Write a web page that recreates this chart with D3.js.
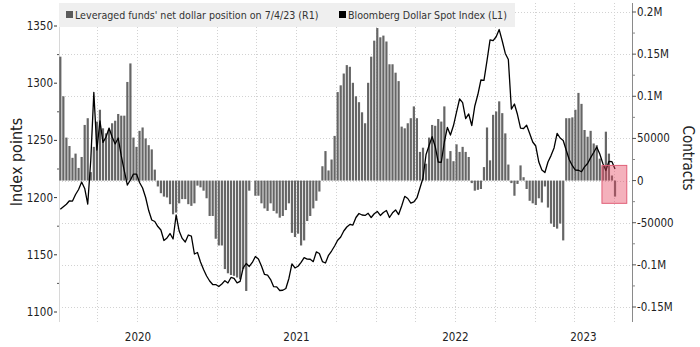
<!DOCTYPE html>
<html><head><meta charset="utf-8">
<script src="https://cdn.jsdelivr.net/npm/d3@7"></script>
<style>body{margin:0;background:#fff}svg{display:block}</style>
</head><body>
<svg id="chart" width="700" height="347"></svg>
<script>
// ---- data ----
const firstWeek = "2020-01-07"; // weekly CFTC reports (Tuesdays)
const netPosition = [ // leveraged funds' net dollar position, contracts (R1)
 147000,100000,51000,41000,27000,32000,15000,28000,66000,74000,
 10000,40000,70000,84000,62000,56000,60000,68000,71000,79000,
 77000,77000,117000,139000,51000,40000,59000,63000,50000,42000,
 37000,13000,-7000,-15000,-19000,-20000,-28000,-40000,-38000,-27000,
 -22000,-22000,-28000,-30000,-27000,-6000,-8000,-12000,-21000,-42000,
 -42000,-69000,-77000,-77000,-105000,-110000,-112000,-113000,-115000,-117000,
 -105000,-131000,-12000,0,-18000,-18000,-27000,-33000,-36000,-27000,
 -36000,-39000,-44000,-42000,-35000,-27000,-62000,-67000,-63000,-77000,
 -71000,-48000,-42000,-33000,-24000,-13000,17000,35000,12000,25000,
 53000,105000,113000,127000,137000,135000,116000,100000,93000,81000,
 68000,116000,147000,166000,181000,170000,172000,165000,138000,138000,
 128000,118000,64000,62000,68000,74000,88000,74000,34000,39000,
 20000,51000,66000,65000,73000,70000,88000,26000,35000,23000,
 43000,34000,40000,34000,28000,-3000,-12000,-11000,-10000,16000,
 63000,24000,78000,82000,94000,80000,56000,19000,-3000,-18000,
 -4000,18000,4000,-10000,-24000,-27000,-29000,-21000,-26000,-7000,
 -32000,-51000,-55000,-57000,-51000,-71000,74000,74000,75000,84000,
 104000,91000,60000,52000,59000,44000,42000,26000,17000,58000,
 32000,6000,-19000
];
const dollarIndex = [ // Bloomberg Dollar Spot Index (L1)
 1189.8,1192.0,1194.2,1197.2,1197.0,1202.7,1207.1,1213.6,1208.0,1194.4,
 1232.9,1292.0,1241.6,1267.0,1248.2,1253.0,1260.8,1253.0,1246.9,1252.1,
 1236.4,1223.3,1211.0,1215.4,1220.6,1220.6,1213.2,1208.4,1200.1,1188.7,
 1180.4,1179.1,1174.7,1171.7,1162.5,1164.7,1168.6,1163.8,1184.8,1170.8,
 1164.3,1161.2,1167.3,1166.4,1150.7,1152.0,1143.7,1137.2,1131.5,1127.1,
 1124.0,1124.0,1122.3,1124.5,1127.4,1125.4,1130.2,1129.3,1125.4,1126.7,
 1138.5,1142.4,1139.8,1143.3,1148.5,1146.3,1140.2,1132.8,1132.3,1128.4,
 1122.1,1121.9,1118.8,1119.0,1120.5,1129.3,1142.0,1138.5,1140.0,1143.3,
 1147.5,1146.3,1146.1,1144.0,1152.5,1151.1,1144.1,1142.8,1149.6,1153.3,
 1157.7,1162.7,1165.6,1170.8,1174.3,1176.5,1176.0,1182.6,1186.1,1184.8,
 1184.4,1186.3,1182.6,1185.9,1187.9,1184.4,1187.0,1188.7,1182.6,1186.7,
 1189.2,1185.2,1192.7,1201.1,1199.2,1195.1,1196.2,1199.7,1208.4,1217.1,
 1237.7,1245.5,1253.2,1244.7,1231.1,1230.9,1248.6,1261.3,1254.7,1263.0,
 1274.8,1286.2,1283.0,1269.1,1273.1,1263.0,1280.1,1290.1,1302.8,1302.5,
 1319.8,1337.8,1337.2,1340.6,1346.9,1336.9,1326.0,1320.7,1277.4,1281.8,
 1272.6,1260.8,1260.4,1263.3,1256.0,1248.6,1245.1,1231.1,1224.1,1221.9,
 1231.1,1236.7,1243.4,1256.2,1252.1,1249.9,1241.4,1233.1,1227.9,1224.1,
 1223.9,1222.6,1226.9,1229.8,1234.9,1239.4,1244.2,1238.1,1229.8,1223.7,
 1231.7,1231.4,1225.0
];
const leftTicks = [1100, 1150, 1200, 1250, 1300, 1350];
const leftMinorTicks = [1125, 1175, 1225, 1275, 1325];
const rightTicks = [-150000, -100000, -50000, 0, 50000, 100000, 150000, 200000];
const rightTickLabels = ["-0.15M", "-0.1M", "-50000", "0", "50000", "0.1M", "0.15M", "0.2M"];
const rightMinorTicks = [-125000, -75000, -25000, 25000, 75000, 125000, 175000];
const yearLabels = ["2020", "2021", "2022", "2023"];
const xDomain = ["2020-01-04", "2023-08-12"];
const highlightDates = ["2023-06-04", "2023-07-31"];
const highlightValues = [-27000, 18000];
const legendLabels = ["Leveraged funds' net dollar position on 7/4/23 (R1)", "Bloomberg Dollar Spot Index (L1)"];
const legendColors = ["#5a5a5a", "#000000"];
const axisTitles = ["Index points", "Contracts"];

// ---- layout ----
const plot = {left: 59, right: 632, top: 3, bottom: 322};
const parse = d3.utcParse("%Y-%m-%d");
const start = parse(firstWeek);
const weekDates = netPosition.map((_, i) => d3.utcDay.offset(start, 7 * i));

const x = d3.scaleUtc().domain(xDomain.map(parse)).range([plot.left, plot.right]);
const yL = d3.scaleLinear().domain([1100, 1350]).range([312, 26]);
const yR = d3.scaleLinear().domain([-150000, 200000]).range([307, 12]);

const svg = d3.select("#chart");
const FONT = "'DejaVu Sans Condensed', 'DejaVu Sans', sans-serif";

// gridlines
const grid = svg.append("g").attr("stroke", "#d2d2d2").attr("stroke-dasharray", "1,2").attr("stroke-width", 1);
grid.selectAll("line.h").data(rightTicks).join("line")
  .attr("x1", plot.left).attr("x2", plot.right)
  .attr("y1", d => Math.round(yR(d)) + 0.5).attr("y2", d => Math.round(yR(d)) + 0.5);
const quarters = d3.utcMonth.every(3).range(x.domain()[0], x.domain()[1]);
grid.selectAll("line.v").data(quarters).join("line")
  .attr("x1", d => Math.round(x(d)) + 0.5).attr("x2", d => Math.round(x(d)) + 0.5)
  .attr("y1", plot.top).attr("y2", plot.bottom);

// left axis line (light)
svg.append("line").attr("x1", plot.left + 0.5).attr("x2", plot.left + 0.5)
  .attr("y1", plot.top).attr("y2", plot.bottom).attr("stroke", "#d8d8d8");

// bars
svg.append("g").selectAll("rect").data(netPosition).join("rect")
  .attr("x", (d, i) => x(weekDates[i]) - 1.1)
  .attr("width", 2.2)
  .attr("y", d => yR(Math.max(0, d)))
  .attr("height", d => Math.abs(yR(d) - yR(0)))
  .attr("fill", "#666666");

// line
const line = d3.line().x((d, i) => x(weekDates[i])).y(d => yL(d));
svg.append("path").datum(dollarIndex).attr("d", line)
  .attr("fill", "none").attr("stroke", "#000").attr("stroke-width", 1.3).attr("stroke-linejoin", "round");

// highlight box
const hx0 = x(parse(highlightDates[0])), hx1 = x(parse(highlightDates[1]));
svg.append("rect")
  .attr("x", hx0).attr("width", hx1 - hx0)
  .attr("y", yR(highlightValues[1])).attr("height", yR(highlightValues[0]) - yR(highlightValues[1]))
  .attr("fill", "rgba(228,70,95,0.42)").attr("stroke", "#e06078").attr("stroke-width", 1);

// legend
const leg = svg.append("g");
leg.append("rect").attr("x", plot.left).attr("y", 3).attr("width", 456).attr("height", 24).attr("fill", "#efefef");
const legX = [66, 339];
legendLabels.forEach((t, k) => {
  leg.append("rect").attr("x", legX[k]).attr("y", 11).attr("width", 7).attr("height", 7).attr("fill", legendColors[k]);
  leg.append("text").attr("x", legX[k] + 9).attr("y", 19).text(t)
    .attr("font-family", FONT).attr("font-size", 10.6).attr("fill", "#333");
});

// left axis ticks
const la = svg.append("g");
la.selectAll("line.maj").data(leftTicks).join("line")
  .attr("x1", 54).attr("x2", 57).attr("y1", d => yL(d)).attr("y2", d => yL(d)).attr("stroke", "#333");
la.selectAll("line.min").data(leftMinorTicks).join("line")
  .attr("x1", 57).attr("x2", 59).attr("y1", d => yL(d)).attr("y2", d => yL(d)).attr("stroke", "#555");
la.selectAll("text").data(leftTicks).join("text")
  .attr("x", 53).attr("y", d => yL(d) + 4).attr("text-anchor", "end")
  .attr("font-family", FONT).attr("font-size", 11.5).attr("fill", "#222").text(d => d);

// right axis
const ra = svg.append("g");
ra.append("line").attr("x1", plot.right + 0.5).attr("x2", plot.right + 0.5)
  .attr("y1", plot.top).attr("y2", plot.bottom).attr("stroke", "#8a8a8a");
ra.selectAll("line.maj").data(rightTicks).join("line")
  .attr("x1", plot.right).attr("x2", plot.right + 4).attr("y1", d => yR(d)).attr("y2", d => yR(d)).attr("stroke", "#555");
ra.selectAll("line.min").data(rightMinorTicks).join("line")
  .attr("x1", plot.right).attr("x2", plot.right + 3).attr("y1", d => yR(d)).attr("y2", d => yR(d)).attr("stroke", "#888");
ra.selectAll("text").data(rightTicks).join("text")
  .attr("x", plot.right + 5).attr("y", d => yR(d) + 4)
  .attr("font-family", FONT).attr("font-size", 11.5).attr("fill", "#222")
  .text((d, i) => rightTickLabels[i]);

// year labels centred on the visible part of each year
const [d0, d1] = x.domain();
svg.append("g").selectAll("text").data(yearLabels).join("text")
  .attr("x", d => {
    const a = d3.max([parse(d + "-01-01"), d0]);
    const b = d3.min([parse((+d + 1) + "-01-01"), d1]);
    return (x(a) + x(b)) / 2;
  })
  .attr("y", 341).attr("text-anchor", "middle")
  .attr("font-family", FONT).attr("font-size", 11.5).attr("fill", "#222").text(d => d);

// axis titles
svg.append("text").attr("transform", "translate(22,162) rotate(-90)").attr("text-anchor", "middle")
  .attr("font-family", FONT).attr("font-size", 16).attr("fill", "#222").text(axisTitles[0]);
svg.append("text").attr("transform", "translate(683,158) rotate(90)").attr("text-anchor", "middle")
  .attr("font-family", FONT).attr("font-size", 15).attr("fill", "#222").text(axisTitles[1]);
</script>
</body></html>
